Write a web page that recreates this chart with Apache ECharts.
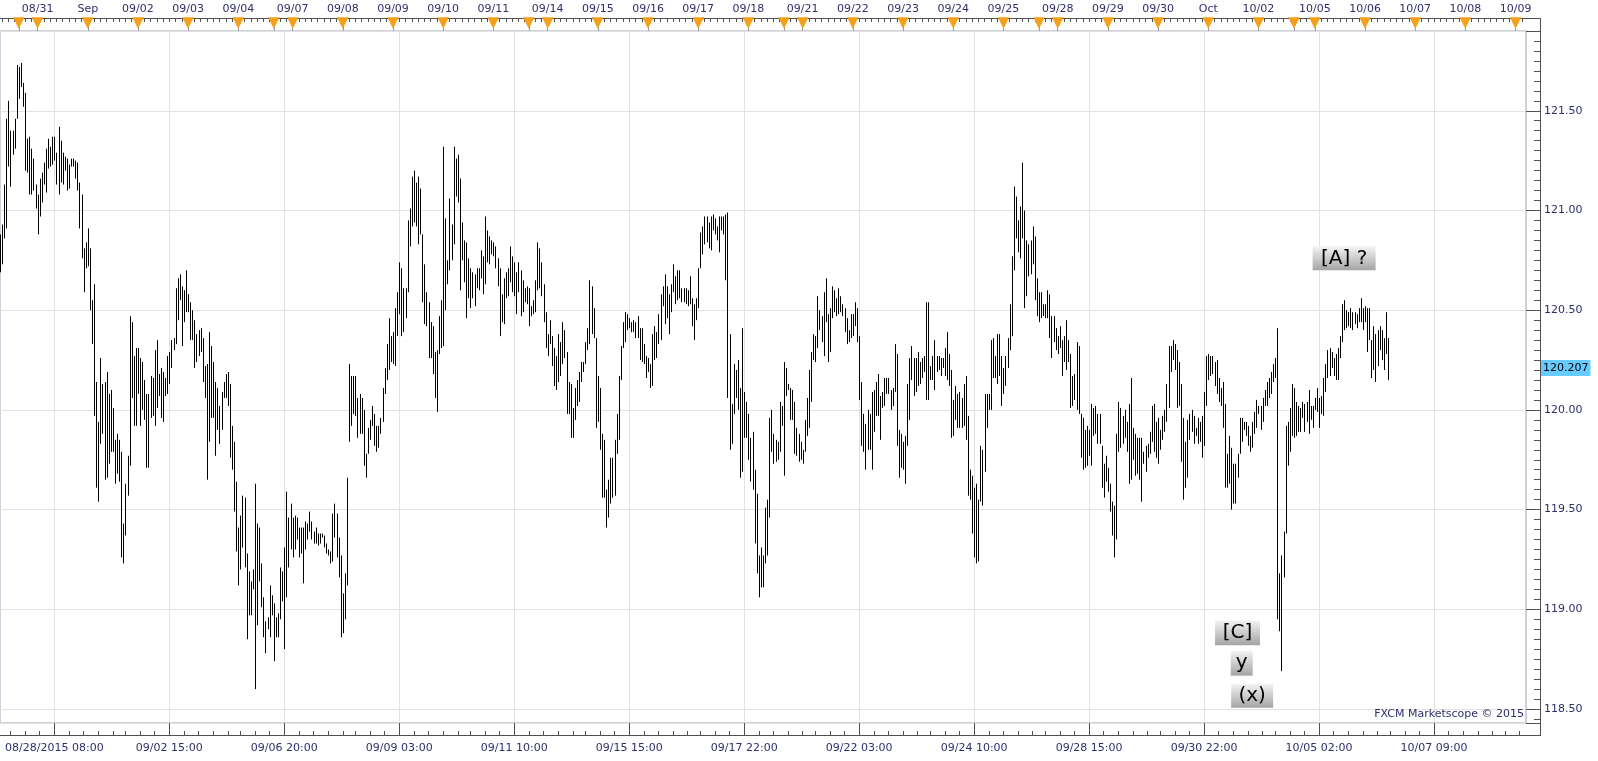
<!DOCTYPE html>
<html><head><meta charset="utf-8">
<script src="https://cdn.jsdelivr.net/npm/echarts@6/dist/echarts.min.js"></script>
<style>html,body{margin:0;padding:0;background:#fff}#c{width:1598px;height:761px}</style>
</head><body><div id="c"></div>
<script>
// Hourly USD/JPY bars (high / low), 08/28/2015 08:00 onward
const highs = [
120.88,120.93,121.13,121.46,121.55,121.40,121.40,121.46,121.73,121.72,
121.74,121.64,121.59,121.36,121.37,121.31,121.26,121.13,121.08,121.16,
121.19,121.24,121.31,121.36,121.32,121.37,121.37,121.29,121.42,121.35,
121.29,121.27,121.26,121.23,121.26,121.26,121.25,121.24,121.14,121.08,
120.81,120.84,120.91,120.81,120.55,120.63,120.14,119.94,120.26,120.13,
120.14,120.19,120.08,120.10,120.01,119.85,119.88,119.85,119.79,119.43,
119.63,119.77,120.47,120.44,120.27,120.31,120.31,120.26,120.24,120.15,
120.08,120.08,120.17,120.16,120.30,120.35,120.18,120.21,120.19,120.16,
120.27,120.29,120.35,120.36,120.61,120.66,120.68,120.62,120.60,120.70,
120.58,120.54,120.50,120.45,120.38,120.40,120.41,120.36,120.22,120.23,
120.39,120.32,120.24,120.14,120.11,120.02,120.09,120.14,120.18,120.19,
120.13,119.92,119.84,119.64,119.41,119.47,119.57,119.56,119.28,119.19,
119.14,119.20,119.63,119.43,119.41,119.23,119.06,118.94,118.96,119.12,
119.07,119.03,118.96,118.98,119.21,119.19,119.31,119.59,119.46,119.53,
119.46,119.47,119.46,119.41,119.41,119.41,119.44,119.43,119.49,119.44,
119.39,119.41,119.38,119.38,119.38,119.37,119.33,119.30,119.29,119.48,
119.53,119.48,119.36,119.27,119.08,119.18,119.66,120.23,120.17,120.17,
120.17,120.06,120.08,120.06,120.00,119.78,119.91,119.95,120.02,119.98,
119.92,119.92,119.96,120.11,120.21,120.33,120.46,120.37,120.39,120.51,
120.59,120.74,120.71,120.61,120.61,120.95,121.01,121.17,121.20,121.14,
121.17,121.11,120.88,120.73,120.59,120.54,120.44,120.42,120.29,120.30,
120.47,120.55,121.32,120.96,120.75,121.06,120.93,121.32,121.26,121.28,
121.16,120.94,120.85,120.84,120.76,120.71,120.69,120.68,120.71,120.71,
120.80,120.77,120.97,120.90,120.87,120.85,120.84,120.82,120.76,120.71,
120.58,120.66,120.69,120.71,120.82,120.77,120.74,120.69,120.74,120.70,
120.65,120.61,120.62,120.61,120.52,120.55,120.65,120.84,120.81,120.74,
120.63,120.49,120.38,120.45,120.37,120.31,120.27,120.38,120.34,120.44,
120.40,120.29,120.14,120.13,120.01,120.11,120.15,120.19,120.24,120.24,
120.34,120.41,120.65,120.62,120.51,120.36,120.17,120.11,119.88,119.85,
119.60,119.65,119.76,119.76,119.85,119.98,120.17,120.32,120.44,120.49,
120.48,120.46,120.44,120.45,120.44,120.47,120.41,120.41,120.33,120.27,
120.26,120.23,120.38,120.42,120.39,120.48,120.58,120.62,120.68,120.62,
120.58,120.63,120.73,120.67,120.70,120.70,120.61,120.61,120.61,120.60,
120.67,120.56,120.53,120.56,120.71,120.89,120.92,120.97,120.97,120.94,
120.97,120.98,120.96,120.92,120.97,120.97,120.97,120.98,120.99,120.38,
120.03,120.23,120.20,120.25,120.11,120.41,120.09,120.04,119.98,119.86,
119.89,119.70,119.58,119.27,119.31,119.27,119.51,119.55,119.96,120.00,
119.88,119.85,119.84,120.04,120.02,120.24,120.21,120.13,120.11,120.10,
120.04,119.91,119.88,119.84,119.80,119.95,120.06,120.20,120.29,120.38,
120.37,120.57,120.50,120.47,120.59,120.66,120.48,120.51,120.62,120.60,
120.56,120.61,120.57,120.53,120.51,120.46,120.40,120.48,120.48,120.54,
120.51,120.37,120.14,119.98,119.93,120.00,119.98,120.09,120.10,120.14,
120.18,120.07,120.09,120.16,120.16,120.16,120.10,120.11,120.33,120.28,
119.90,119.88,119.84,119.87,120.13,120.26,120.32,120.26,
120.26,120.29,120.24,120.26,120.27,120.54,120.54,120.22,120.27,120.35,120.27,120.27,
120.26,120.26,120.31,120.39,120.28,120.20,120.05,120.12,120.08,120.09,
120.06,120.13,120.17,119.97,119.70,119.67,119.61,119.63,119.55,119.82,
119.80,120.08,120.08,120.08,120.35,120.36,120.27,120.38,120.38,120.27,
120.21,120.27,120.36,120.53,120.77,121.12,121.07,120.95,121.02,121.24,
121.00,120.85,120.83,120.85,120.92,120.87,120.66,120.59,120.59,120.53,
120.53,120.60,120.58,120.47,120.47,120.41,120.37,120.42,120.35,120.37,
120.45,120.35,120.28,120.17,120.18,120.34,120.32,119.98,119.96,119.90,
119.92,119.90,120.03,120.01,120.02,119.98,119.98,119.82,119.73,119.77,
119.71,119.63,119.54,119.52,119.88,120.04,120.01,119.97,120.00,119.94,
120.03,120.16,119.91,119.88,119.86,119.86,119.86,119.79,119.82,119.83,
119.89,120.02,120.03,119.94,119.96,119.90,119.97,120.00,120.13,120.32,
120.32,120.35,120.33,120.30,120.24,120.13,119.96,119.84,119.95,119.98,
120.00,119.97,119.91,119.96,119.94,119.97,120.09,120.27,120.28,120.27,
120.27,120.24,120.25,120.16,120.11,120.14,120.03,119.78,119.87,119.81,
119.73,119.73,119.78,119.96,119.96,119.94,119.94,119.92,119.87,119.94,
119.99,120.05,120.02,120.02,120.06,120.10,120.14,120.16,120.19,120.23,
120.26,120.41,119.18,119.27,119.39,119.92,119.94,120.01,120.13,120.11,
120.04,120.02,120.01,120.04,120.03,120.04,120.10,120.02,120.02,120.06,
120.11,120.06,120.07,120.16,120.23,120.30,120.31,120.29,120.26,120.28,
120.31,120.37,120.53,120.55,120.50,120.49,120.51,120.49,120.49,120.48,
120.51,120.56,120.51,120.52,120.51,120.51,120.35,
120.42,120.38,120.40,120.42,120.40,120.36,120.49,120.36
];
const lows = [
120.69,120.73,120.86,120.91,121.22,121.12,121.28,121.31,121.46,121.56,
121.62,121.52,121.20,121.19,121.08,121.08,121.10,121.01,120.88,120.97,
121.04,121.13,121.09,121.21,121.22,121.23,121.25,121.13,121.08,121.14,
121.13,121.20,121.10,121.11,121.22,121.22,121.16,121.10,120.91,120.76,
120.59,120.71,120.72,120.50,120.33,119.97,119.61,119.54,119.83,119.88,
119.65,119.66,119.73,119.79,119.79,119.63,119.68,119.64,119.26,119.23,
119.37,119.57,119.72,120.06,119.92,119.92,120.08,119.92,120.00,119.95,
119.71,119.71,119.96,119.97,119.92,120.01,120.07,119.96,119.94,120.07,
120.08,120.13,120.21,120.30,120.33,120.45,120.55,120.32,120.44,120.49,
120.49,120.35,120.35,120.21,120.24,120.27,120.29,120.14,120.06,119.65,
119.84,119.96,119.96,119.77,119.90,119.83,119.90,120.06,120.06,120.02,
119.76,119.70,119.49,119.29,119.12,119.20,119.31,119.21,118.85,118.97,
118.97,119.10,118.60,118.92,119.14,119.01,118.86,118.78,118.90,118.86,
118.97,118.74,118.86,118.86,118.95,119.04,118.80,119.06,119.21,119.30,
119.26,119.30,119.35,119.26,119.28,119.13,119.30,119.35,119.39,119.35,
119.33,119.33,119.32,119.33,119.36,119.31,119.28,119.27,119.23,119.24,
119.36,119.26,119.16,118.86,118.88,118.95,119.12,119.84,119.92,119.98,
119.97,119.86,119.88,119.88,119.72,119.66,119.78,119.85,119.92,119.82,
119.79,119.81,119.88,119.94,120.08,120.15,120.20,120.24,120.23,120.22,
120.37,120.48,120.37,120.39,120.46,120.59,120.82,120.92,120.94,120.92,
120.83,120.88,120.54,120.43,120.42,120.26,120.26,120.18,120.06,119.99,
120.28,120.31,120.32,120.50,120.63,120.70,120.75,120.83,121.07,121.04,
120.60,120.75,120.64,120.46,120.56,120.51,120.56,120.52,120.61,120.60,
120.66,120.58,120.63,120.74,120.73,120.78,120.77,120.71,120.62,120.37,
120.44,120.43,120.56,120.57,120.64,120.59,120.57,120.48,120.59,120.47,
120.49,120.54,120.53,120.42,120.47,120.48,120.49,120.60,120.61,120.57,
120.44,120.31,120.27,120.33,120.22,120.12,120.10,120.14,120.17,120.23,
120.26,119.98,119.98,119.86,119.86,119.95,120.02,120.04,120.14,120.19,
120.23,120.30,120.33,120.38,120.36,119.91,119.94,119.80,119.56,119.56,
119.41,119.46,119.53,119.56,119.57,119.78,119.85,120.15,120.31,120.34,
120.40,120.41,120.39,120.39,120.36,120.36,120.25,120.24,120.23,120.16,
120.19,120.11,120.12,120.25,120.26,120.33,120.35,120.52,120.43,120.46,
120.38,120.49,120.59,120.53,120.55,120.56,120.54,120.54,120.53,120.52,
120.53,120.42,120.35,120.45,120.51,120.71,120.78,120.83,120.84,120.81,
120.80,120.90,120.88,120.85,120.79,120.90,120.88,120.65,120.06,119.80,
119.83,119.98,120.06,120.00,119.66,119.69,119.86,119.86,119.75,119.64,
119.60,119.33,119.18,119.06,119.11,119.11,119.23,119.27,119.46,119.79,
119.73,119.74,119.75,119.79,119.92,119.67,120.07,120.10,119.95,119.95,
119.78,119.77,119.74,119.75,119.73,119.79,119.87,119.91,120.04,120.25,
120.24,120.31,120.40,120.34,120.27,120.44,120.24,120.29,120.46,120.49,
120.47,120.48,120.49,120.47,120.39,120.33,120.34,120.36,120.37,120.42,
120.34,120.05,119.82,119.79,119.70,119.80,119.80,119.70,119.89,119.97,
119.97,119.85,120.01,120.02,120.08,120.08,120.00,120.02,120.09,119.82,
119.66,119.71,119.70,119.63,119.82,119.95,120.15,120.07,
120.09,120.12,120.13,120.16,120.19,120.05,120.05,120.15,120.15,120.10,120.19,120.20,
120.17,120.21,120.17,120.15,120.12,119.86,119.87,119.95,119.91,119.91,
119.91,119.92,119.85,119.57,119.55,119.38,119.26,119.23,119.24,119.54,
119.52,119.69,119.91,120.00,120.00,120.16,120.16,120.13,120.17,120.02,
120.08,120.12,120.21,120.30,120.37,120.70,120.86,120.79,120.76,120.86,
120.51,120.57,120.67,120.68,120.73,120.55,120.47,120.44,120.46,120.47,
120.46,120.46,120.36,120.26,120.34,120.30,120.28,120.31,120.17,120.24,
120.20,120.24,120.01,120.02,120.05,120.00,119.98,119.76,119.70,119.71,
119.72,119.77,119.72,119.87,119.88,119.83,119.83,119.61,119.56,119.64,
119.59,119.49,119.37,119.26,119.35,119.79,119.81,119.83,119.86,119.79,
119.63,119.65,119.75,119.67,119.68,119.65,119.54,119.73,119.69,119.76,
119.78,119.84,119.79,119.76,119.73,119.80,119.85,119.89,119.94,120.01,
120.19,120.25,120.20,120.01,120.02,119.74,119.55,119.61,119.66,119.85,
119.89,119.83,119.87,119.83,119.84,119.76,119.82,120.02,120.15,120.17,
120.18,120.12,120.08,120.04,120.02,119.91,119.61,119.61,119.63,119.50,
119.53,119.53,119.66,119.78,119.84,119.90,119.87,119.82,119.79,119.81,
119.88,119.91,119.98,119.90,119.94,120.02,120.02,120.06,120.08,120.14,
120.16,118.95,118.89,118.69,119.16,119.38,119.72,119.79,119.87,119.86,
119.87,119.89,119.89,119.96,119.89,119.94,119.88,119.95,119.91,120.00,
119.99,119.91,119.98,119.97,120.09,120.16,120.17,120.21,120.17,120.15,
120.15,120.26,120.34,120.40,120.41,120.42,120.41,120.40,120.43,120.41,
120.44,120.44,120.40,120.44,120.29,120.35,120.16,
120.20,120.14,120.22,120.30,120.25,120.20,120.28,120.15
];
const lastPrice = 120.207;
const slotCount = 731;               // bar slots on the time axis (incl. empty future)
const bottomLabels = ['08/28/2015 08:00','09/02 15:00','09/06 20:00','09/09 03:00','09/11 10:00','09/15 15:00','09/17 22:00','09/22 03:00','09/24 10:00','09/28 15:00','09/30 22:00','10/05 02:00','10/07 09:00'];
const bottomLabelFirst = 26, bottomLabelStep = 55;
const dayIdx =    [18,42,66,90,114,140,164,188,212,236,262,286,310,334,358,384,408,432,456,480,506,530,554,578,602,629,653,677,701,725];
const dayLabels = ['08/31','Sep','09/02','09/03','09/04','09/07','09/08','09/09','09/10','09/11','09/14','09/15','09/16','09/17','09/18','09/21','09/22','09/23','09/24','09/25','09/28','09/29','09/30','Oct','10/02','10/05','10/06','10/07','10/08','10/09'];
const weekIdx = [9,131,253,375,497,619];
const noteText  = ['[A] ?','[C]','y','(x)'];
const noteBar   = [643, 592, 594, 599];
const notePrice = [120.76, 118.883, 118.73, 118.567];
const noteBox = {'[A] ?':[63,24],'[C]':[45,25],'y':[22,25],'(x)':[42,24]};

const cats = Array.from({length: slotCount}, (_, i) => String(i));
const bars = highs.map((h, i) => [i, h, lows[i]]);
const dayMap = {}; dayIdx.forEach((d, k) => dayMap[d] = dayLabels[k]);
const markerSet = new Set(dayIdx.concat(weekIdx));
const isMajorBottom = i => i >= bottomLabelFirst && (i - bottomLabelFirst) % bottomLabelStep === 0;
const minorBottom = new Set();
for (let k = -4; k < 110; k++) {
  const v = Math.round(bottomLabelFirst + k * bottomLabelStep / 8);
  if (v >= 0 && v < slotCount && k % 8 !== 0) minorBottom.add(v);
}
const minorTop = new Set([1, 4, 7]);
const allMarks = Array.from(markerSet).sort((a, b) => a - b);
allMarks.forEach((m, k) => {
  const next = k + 1 < allMarks.length ? allMarks[k + 1] : slotCount;
  for (let t = m + 3; t < next; t += 3) minorTop.add(t);
});

const FONT = 'DejaVu Sans';
const TXT = '#2f2f6c';
const AX = '#505050';
const GRID = '#e2e2e2';

const chart = echarts.init(document.getElementById('c'), null, {renderer: 'canvas'});
const baseCat = {type: 'category', data: cats, boundaryGap: false, gridIndex: 0};
chart.setOption({
  animation: false,
  backgroundColor: '#ffffff',
  grid: {left: 0, right: 72, top: 31, bottom: 38, show: true, borderColor: '#cdd2da', borderWidth: 2, backgroundColor: '#ffffff'},
  xAxis: [
    Object.assign({}, baseCat, {position: 'bottom', axisLine: {show: false}, axisTick: {show: false}, axisLabel: {show: false},
      splitLine: {show: true, interval: (i) => isMajorBottom(i), lineStyle: {color: GRID, width: 1}}}),
    Object.assign({}, baseCat, {position: 'bottom', offset: 12,
      axisLine: {show: true, lineStyle: {color: AX, width: 1}},
      axisTick: {show: true, inside: true, length: 12, interval: (i) => isMajorBottom(i), lineStyle: {color: AX}},
      axisLabel: {show: true, interval: (i) => isMajorBottom(i), margin: 8, color: TXT, fontSize: 11, fontFamily: FONT,
        formatter: (v, i) => bottomLabels[(Number(v) - bottomLabelFirst) / bottomLabelStep] || ''},
      splitLine: {show: false}}),
    Object.assign({}, baseCat, {position: 'bottom', offset: 12, axisLine: {show: false},
      axisTick: {show: true, inside: true, length: 4, interval: (i) => minorBottom.has(i), lineStyle: {color: AX}},
      axisLabel: {show: false}, splitLine: {show: false}}),
    Object.assign({}, baseCat, {position: 'top', offset: 13,
      axisLine: {show: true, lineStyle: {color: AX, width: 1}},
      axisTick: {show: true, inside: true, length: 13, interval: (i) => markerSet.has(i), lineStyle: {color: '#9a9a9a'}},
      axisLabel: {show: true, interval: (i) => dayMap[i] !== undefined, margin: 3, color: TXT, fontSize: 11, fontFamily: FONT,
        formatter: (v) => dayMap[Number(v)] || ''},
      splitLine: {show: false}}),
    Object.assign({}, baseCat, {position: 'top', offset: 13, axisLine: {show: false},
      axisTick: {show: true, inside: true, length: 4, interval: (i) => minorTop.has(i), lineStyle: {color: AX}},
      axisLabel: {show: false}, splitLine: {show: false}}),
    Object.assign({}, baseCat, {position: 'top', offset: 13, axisLine: {show: false}, axisTick: {show: false},
      axisLabel: {show: true, inside: true, interval: (i) => markerSet.has(i), margin: -2, color: '#f5a01a', fontSize: 15, fontFamily: FONT,
        formatter: () => '\u25BC'},
      splitLine: {show: false}})
  ],
  yAxis: {
    type: 'value', position: 'right', offset: 14, min: 118.43, max: 121.90, splitNumber: 7,
    axisLine: {show: true, lineStyle: {color: AX, width: 1}},
    axisTick: {show: true, inside: true, length: 14, lineStyle: {color: AX}},
    minorTick: {show: true, splitNumber: 10, length: 6, lineStyle: {color: AX}},
    axisLabel: {margin: 4, color: TXT, fontSize: 11, fontFamily: FONT, showMinLabel: false, showMaxLabel: false,
      formatter: (v) => v.toFixed(2)},
    splitLine: {show: true, lineStyle: {color: GRID, width: 1}},
    minorSplitLine: {show: false}
  },
  series: [
    {
      type: 'custom', xAxisIndex: 0, yAxisIndex: 0, data: bars, encode: {x: 0, y: [1, 2]}, z: 3, clip: true,
      renderItem: (params, api) => {
        const pTop = api.coord([api.value(0), api.value(1)]);
        const pBot = api.coord([api.value(0), api.value(2)]);
        const x = Math.round(pTop[0]) + 0.5;
        return {type: 'line', shape: {x1: x, y1: pTop[1], x2: x, y2: pBot[1]}, style: {stroke: '#000000', lineWidth: 1}};
      }
    },
    {
      type: 'line', xAxisIndex: 0, yAxisIndex: 0, data: [[highs.length - 1, lastPrice]], symbol: 'none', silent: true,
      lineStyle: {width: 0},
      markLine: {symbol: 'none', silent: true, lineStyle: {color: 'rgba(0,0,0,0)', width: 0, type: 'solid'},
        data: [{yAxis: lastPrice}],
        label: {show: true, position: 'end', distance: 15, formatter: () => lastPrice.toFixed(3), opacity: 1,
          backgroundColor: '#66ccff', color: '#000000', fontSize: 11, fontFamily: FONT, padding: [3, 2, 2, 2]}}
    },
    {
      type: 'scatter', xAxisIndex: 0, yAxisIndex: 0, z: 10, silent: true,
      data: noteText.map((t, k) => ({name: t, value: [noteBar[k], notePrice[k]], symbolSize: noteBox[t]})),
      symbol: 'rect',
      itemStyle: {color: new echarts.graphic.LinearGradient(0, 0, 0, 1, [{offset: 0, color: '#f4f4f4'}, {offset: 1, color: '#a4a4a4'}]), opacity: 1},
      label: {show: true, position: 'inside', formatter: '{b}', color: '#000', fontSize: 20, fontFamily: FONT}
    }
  ],
  graphic: [
    {type: 'text', right: 74, top: 709, z: 20, style: {text: 'FXCM Marketscope \u00A9 2015', fill: TXT, font: '11px "DejaVu Sans"'}},
    {type: 'line', z: 20, shape: {x1: 1540.5, y1: 18, x2: 1540.5, y2: 735.5}, style: {stroke: AX, lineWidth: 1}},
    {type: 'line', z: 20, shape: {x1: 1526, y1: 18.5, x2: 1541, y2: 18.5}, style: {stroke: AX, lineWidth: 1}},
    {type: 'line', z: 20, shape: {x1: 1526, y1: 735.5, x2: 1541, y2: 735.5}, style: {stroke: AX, lineWidth: 1}}
  ]
});
</script></body></html>
